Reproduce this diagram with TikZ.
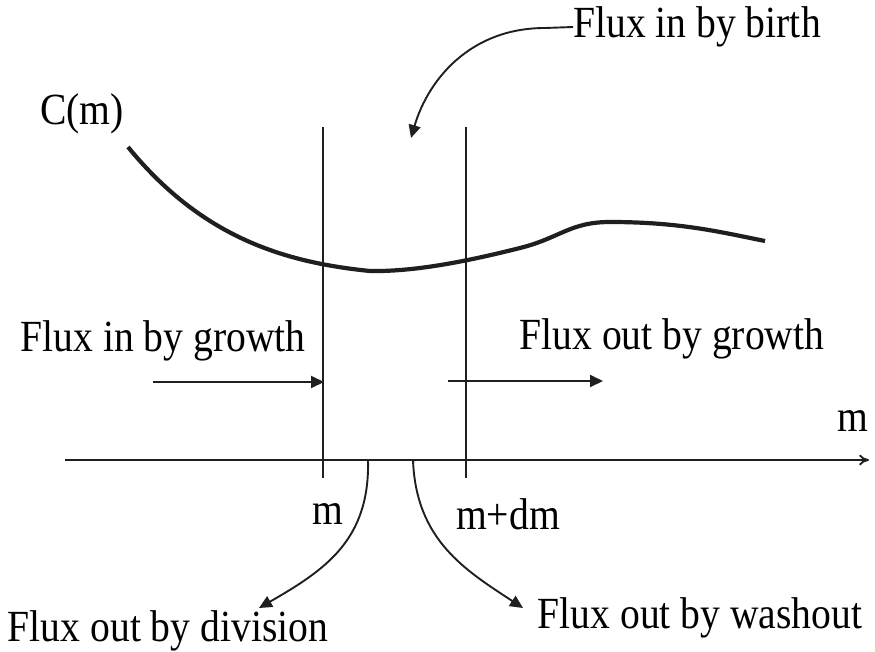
\documentclass[tikz,border=0pt]{standalone}
\usepackage{fontspec}
\setmainfont{Liberation Serif}
\newfontfamily\lblfont[FakeStretch=0.89]{Liberation Serif}
\usetikzlibrary{arrows.meta}
\begin{document}
\begin{tikzpicture}[x=1pt,y=-1pt,
  lbl/.style={inner sep=0pt,font=\lblfont\fontsize{44.5}{50}\selectfont},
  thin line/.style={line width=1.9pt,color=black!88},
  flux/.style={line width=1.9pt,color=black!88,-{Triangle[length=13pt,width=12pt]}},
  curve/.style={line width=4.2pt,color=black!88}]
\useasboundingbox (0,0) rectangle (875,652);
% labels
\node[lbl] (birth) at (697,27) {Flux in by birth};
\node[lbl] (cm) at (82,114) {C(m)};
\node[lbl] (ingrowth) at (163,341) {Flux in by growth};
\node[lbl] (outgrowth) at (672,339) {Flux out by growth};
\node[lbl] (maxis) at (853,421) {m};
\node[lbl] (mlab) at (328,514) {m};
\node[lbl] (mdm) at (508,514) {m+dm};
\node[lbl] (division) at (168,631) {Flux out by division};
\node[lbl] (washout) at (700,618) {Flux out by washout};
% coordinates
\coordinate (ax0) at (65,460);
\coordinate (ax1) at (869,460);
\coordinate (v1t) at (323,127);
\coordinate (v1b) at (323,478);
\coordinate (v2t) at (466,127);
\coordinate (v2b) at (466,478);
\coordinate (birthtip) at (411,138);
\coordinate (ig0) at (153,382);
\coordinate (ig1) at (324,382);
\coordinate (og0) at (448,381);
\coordinate (og1) at (603,381);
\coordinate (d0) at (368,460);
\coordinate (d1) at (259,608);
\coordinate (w0) at (413,460);
\coordinate (w1) at (523,608);
% axis
\draw[thin line,-{To[length=10pt,width=11pt]}] (ax0) -- (ax1);
% verticals
\draw[thin line] (v1t) -- (v1b);
\draw[thin line] (v2t) -- (v2b);
% curve C(m)
\draw[curve] (128,147) .. controls (200,235) and (280,262) .. (370,271)
  .. controls (420,272) and (480,258) .. (520,248)
  .. controls (560,238) and (570,222) .. (610,222)
  .. controls (680,222) and (720,232) .. (765,241);
% flux arrows
\draw[flux] (birth.west) -- (545,28) .. controls (470,28) and (428,80) .. (birthtip);
\draw[flux] (ig0) -- (ig1);
\draw[flux] (og0) -- (og1);
\draw[flux] (d0) .. controls (370,540) and (325,570) .. (d1);
\draw[flux] (w0) .. controls (416,540) and (465,570) .. (w1);
\end{tikzpicture}
\end{document}
